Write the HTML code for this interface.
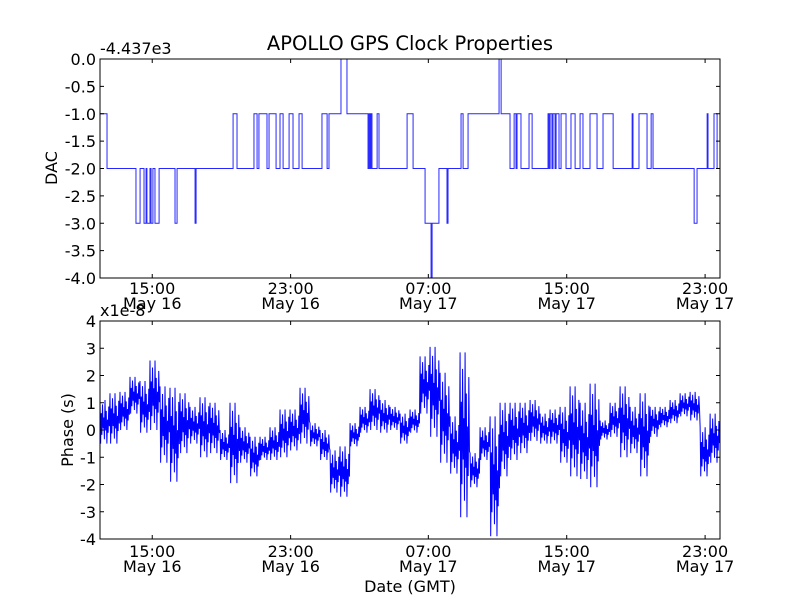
<!DOCTYPE html>
<html><head><meta charset="utf-8"><style>
html,body{margin:0;padding:0;background:#fff}
svg text{font-family:"DejaVu Sans","Liberation Sans",sans-serif;fill:#000}
</style></head><body>
<svg id="c" width="800" height="600" xmlns="http://www.w3.org/2000/svg">
<rect width="800" height="600" fill="#fff"/>
<text x="410" y="50" font-size="19.5" text-anchor="middle">APOLLO GPS Clock Properties</text>
<text x="100" y="54" font-size="16">-4.437e3</text>
<text x="100" y="316" font-size="16">x1e-8</text>
<text transform="translate(57,168) rotate(-90)" font-size="16" text-anchor="middle">DAC</text>
<text transform="translate(73,430) rotate(-90)" font-size="16" text-anchor="middle">Phase (s)</text>
<text x="410" y="592" font-size="16" text-anchor="middle">Date (GMT)</text>
<defs><clipPath id="cb"><rect x="100" y="321" width="620" height="218"/></clipPath></defs>
<g id="g"></g>
</svg>
<script>
// x in hours since start of record
const xTickHours = [3.05, 11.13, 19.17, 27.25, 35.33];
const xTickTimes = ["15:00","23:00","07:00","15:00","23:00"];
const xTickDays = ["May 16","May 16","May 17","May 17","May 17"];
const dacTicks = [0,-0.5,-1,-1.5,-2,-2.5,-3,-3.5,-4];
const dacTickLabels = ["0.0","-0.5","-1.0","-1.5","-2.0","-2.5","-3.0","-3.5","-4.0"];
const phaseTicks = [4,3,2,1,0,-1,-2,-3,-4];
const phaseTickLabels = ["4","3","2","1","0","-1","-2","-3","-4"];
// DAC step series (offset -4437)
const dacTimes = [0,0.41,2.10,2.34,2.57,2.69,2.74,2.92,2.98,3.09,3.21,3.45,4.38,4.50,5.55,5.61,7.77,8.00,8.99,9.17,9.28,9.75,9.87,10.28,10.51,10.69,11.04,11.27,11.62,11.80,12.96,13.26,13.37,14.07,14.42,15.65,15.71,15.77,15.82,15.88,16.18,16.29,17.93,18.28,18.98,19.33,19.39,19.79,20.26,20.32,21.08,21.20,21.49,23.30,23.42,23.94,24.18,24.29,24.35,24.58,25.05,25.23,26.16,26.22,26.28,26.39,26.45,26.57,26.63,26.80,26.92,27.21,27.50,27.74,28.03,28.20,28.61,29.02,29.37,29.96,31.07,31.12,31.47,31.94,32.18,32.29,34.69,34.86,35.45,35.50,35.85,36.03];
const dacValues = [-1,-2,-3,-2,-3,-2,-3,-2,-3,-2,-3,-2,-3,-2,-3,-2,-1,-2,-1,-2,-1,-2,-1,-2,-1,-2,-1,-2,-1,-2,-1,-2,-1,0,-1,-2,-1,-2,-1,-2,-1,-2,-1,-2,-3,-4,-3,-2,-3,-2,-1,-2,-1,0,-1,-2,-1,-2,-1,-2,-1,-2,-1,-2,-1,-2,-1,-2,-1,-2,-1,-2,-1,-2,-1,-2,-1,-2,-1,-2,-1,-2,-1,-2,-1,-2,-3,-2,-1,-2,-1,-2];
// Phase series: per-bin (0.584 h each) high and low envelope, units 1e-8 s
const phaseHi = [1.1,1.35,1.4,1.95,1.8,2.55,1.6,1.55,1.35,0.85,1.2,1.0,0,1.0,0.1,-0.25,-0.25,0.1,0.75,0.75,1.55,0.25,0,-0.75,-0.6,0.25,0.85,1.5,1.1,0.85,0.6,0.75,2.7,3.05,2.1,0.5,2.85,-0.85,0.1,0.5,1.0,1.0,1.0,1.1,0.6,0.75,0.85,1.6,1.0,1.7,0.35,1.0,1.6,0.85,1.35,0.85,0.85,1.1,1.35,1.4,0.1,0.6];
const phaseLo = [-0.5,-0.5,0,0.6,-0.1,0,-1.2,-1.9,-0.85,-0.5,-1.0,-0.85,-1.1,-1.95,-1.2,-1.7,-1.1,-1.1,-1.0,-0.75,-0.5,-0.6,-1.1,-2.3,-2.45,-0.6,-0.1,0,-0.1,0,-0.5,-0.1,0.6,-0.25,-1.2,-1.6,-3.2,-2.1,-1.1,-3.9,-1.7,-1.1,-0.85,-0.4,-0.5,-0.5,-1.2,-1.7,-1.8,-2.1,-0.35,-0.25,-1.0,-0.85,-1.7,-0.25,0.1,0.25,0.5,0.35,-1.7,-1.2];
const binHours = 0.584;

const NS="http://www.w3.org/2000/svg";
const g=document.getElementById('g');
const X0=100,X1=720,H0=0,H1=36.2;
const sx=h=>X0+(h-H0)/(H1-H0)*(X1-X0);
const axTop={y0:59,y1:278,v0:0,v1:-4};
const axBot={y0:321,y1:539,v0:4,v1:-4};
const sy=(ax,v)=>ax.y0+(v-ax.v0)/(ax.v1-ax.v0)*(ax.y1-ax.y0);
function mk(tag,attrs,parent){const e=document.createElementNS(NS,tag);for(const k in attrs)e.setAttribute(k,attrs[k]);(parent||g).appendChild(e);return e;}

// DAC line
let d='';
for(let i=0;i<dacTimes.length;i++){
  const x=sx(dacTimes[i]).toFixed(2), y=sy(axTop,dacValues[i]).toFixed(2);
  if(i===0) d+='M'+x+' '+y; else d+='V'+y;
  const xn=i+1<dacTimes.length?sx(dacTimes[i+1]):X1;
  d+='H'+xn.toFixed(2);
}
const dl=mk('path',{d:d,fill:'none',stroke:'#0000ff','stroke-width':1,'stroke-opacity':0.85});



// Phase line: dense alternation between each bin's envelope values
const mixes=[1,0,0.7,0.2,0.9,0.35,0.6,0.1,1,0.3,0.75,0,0.55,0.25,0.85,0.4];
let p='';
const sub=mixes.length;
for(let k=0;k<phaseHi.length;k++){
  for(let j=0;j<sub;j++){
    const h=k*binHours+j*binHours/sub;
    const m=mixes[j];
    const v=phaseLo[k]+(phaseHi[k]-phaseLo[k])*m;
    p+=(p?'L':'M')+sx(Math.min(h,H1)).toFixed(2)+' '+sy(axBot,v).toFixed(2);
  }
}
const pl=mk('path',{d:p,fill:'none',stroke:'#0000ff','stroke-width':1,'clip-path':'url(#cb)'});



function axes(ax,name,ticks,labels,tickY){
  const f=mk('rect',{x:X0,y:ax.y0,width:X1-X0,height:ax.y1-ax.y0,fill:'none',stroke:'#000','stroke-width':1});
  
  
  ticks.forEach((v,i)=>{
    const y=sy(ax,v);
    mk('line',{x1:X0,x2:X0+4,y1:y,y2:y,stroke:'#000'});
    mk('line',{x1:X1-4,x2:X1,y1:y,y2:y,stroke:'#000'});
    const t=mk('text',{x:96,y:y+6,'font-size':16,'text-anchor':'end'});
    t.textContent=labels[i];
    
    
  });
  xTickHours.forEach((h,i)=>{
    const x=sx(h);
    mk('line',{x1:x,x2:x,y1:ax.y0,y2:ax.y0+4,stroke:'#000'});
    mk('line',{x1:x,x2:x,y1:ax.y1-4,y2:ax.y1,stroke:'#000'});
    const t=mk('text',{x:x,y:tickY,'font-size':16,'text-anchor':'middle'});
    t.textContent=xTickTimes[i];
    
    
    const t2=mk('text',{x:x,y:tickY+15,'font-size':16,'text-anchor':'middle'});
    t2.textContent=xTickDays[i];
    
    
  });
}
axes(axTop,'dac',dacTicks,dacTickLabels,294);
axes(axBot,'phase',phaseTicks,phaseTickLabels,557);
</script>
</body></html>
